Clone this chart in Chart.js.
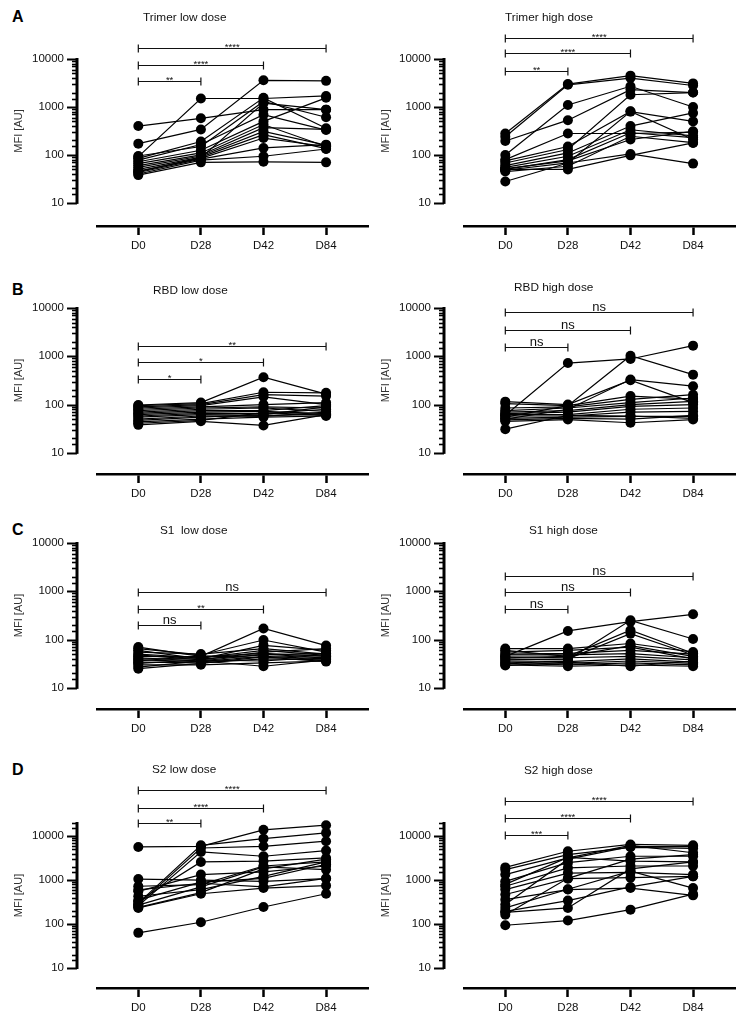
<!DOCTYPE html>
<html>
<head>
<meta charset="utf-8">
<script src="https://cdn.jsdelivr.net/npm/chart.js@4.4.1/dist/chart.umd.min.js"></script>
<style>
  body { margin: 0; background: #fff; font-family: "Liberation Sans", Arial, sans-serif; }
  #fig { position: relative; width: 754px; height: 1030px; overflow: hidden; }
  #fig canvas { position: absolute; }
  .letter { position: absolute; font-weight: bold; font-size: 16px; line-height: 16px; color: #000; }
  .title { position: absolute; font-size: 11.8px; line-height: 12px; color: #111; white-space: pre; }
</style>
</head>
<body>
<div id="fig"></div>
<script>
// time points on the x axis
const days = ['D0', 'D28', 'D42', 'D84'];

// MFI per subject, one row = D0, D28, D42, D84
const trimerLow = [
  [400, 580, 880, 880], [172, 340, 3600, 3500], [92, 1500, 1500, 1700], [95, 150, 1300, 610],
  [85, 190, 1550, 360], [78, 165, 690, 330], [72, 125, 500, 1550], [66, 110, 430, 150],
  [60, 100, 370, 340], [55, 95, 310, 160], [50, 90, 265, 135], [46, 85, 225, 150],
  [43, 82, 140, 164], [40, 78, 94, 133], [38, 70, 72, 70], [45, 88, 1200, 880]
];
const trimerHigh = [
  [280, 3000, 4500, 3100], [240, 2900, 4000, 2800], [195, 530, 2300, 2000], [100, 1100, 2700, 1000],
  [80, 280, 280, 300], [75, 150, 810, 210], [68, 130, 1800, 2000], [60, 110, 400, 750],
  [55, 94, 335, 250], [50, 80, 290, 230], [48, 68, 800, 500], [45, 58, 245, 180],
  [50, 50, 98, 178], [28, 68, 105, 66], [52, 75, 210, 310]
];
const rbdLow = [
  [98, 110, 368, 165], [95, 105, 180, 175], [90, 100, 160, 150], [85, 95, 145, 100],
  [80, 90, 100, 110], [75, 85, 90, 85], [70, 80, 85, 72], [66, 75, 75, 95],
  [62, 70, 72, 65], [58, 66, 65, 80], [55, 62, 60, 62], [50, 58, 57, 70],
  [47, 55, 62, 90], [44, 50, 55, 58], [41, 47, 68, 60], [38, 45, 37, 62]
];
const rbdHigh = [
  [60, 725, 880, 1660], [55, 95, 1030, 417], [50, 80, 330, 240], [115, 100, 320, 110],
  [105, 95, 150, 130], [85, 90, 128, 160], [75, 85, 110, 137], [70, 75, 100, 117],
  [65, 70, 92, 100], [62, 62, 80, 85], [58, 58, 70, 72], [52, 55, 57, 57],
  [48, 52, 50, 60], [45, 49, 42, 49], [31, 60, 58, 52]
];
const s1Low = [
  [70, 45, 170, 75], [65, 48, 98, 55], [60, 40, 76, 60], [55, 50, 65, 50],
  [50, 42, 60, 47], [48, 38, 55, 65], [45, 44, 52, 45], [42, 36, 50, 42],
  [40, 40, 48, 52], [38, 35, 45, 40], [36, 46, 42, 48], [34, 33, 40, 38],
  [32, 38, 36, 44], [30, 30, 33, 36], [27, 36, 28, 38], [25, 32, 44, 35]
];
const s1High = [
  [45, 151, 235, 334], [40, 38, 250, 103], [42, 45, 156, 52], [38, 40, 133, 48],
  [65, 65, 83, 55], [60, 45, 75, 45], [55, 60, 70, 40], [50, 52, 60, 50],
  [48, 48, 51, 42], [44, 42, 45, 38], [36, 35, 40, 34], [34, 32, 36, 32],
  [32, 30, 33, 30], [30, 28, 30, 28], [29, 34, 28, 36]
];
const s2Low = [
  [5700, 5900, 14000, 17800], [300, 6200, 8800, 11900], [280, 5400, 5900, 7700], [260, 4400, 3500, 4700],
  [330, 2600, 2700, 3200], [1060, 1000, 940, 1080], [725, 790, 2100, 2600], [557, 1340, 1540, 2100],
  [430, 610, 1220, 2600], [233, 490, 660, 750], [270, 700, 2000, 1730], [240, 520, 1800, 3000],
  [350, 900, 1100, 2300], [63, 110, 245, 490], [600, 850, 700, 1100]
];
const s2High = [
  [1950, 4550, 6500, 6200], [1730, 3800, 5600, 5300], [1340, 3200, 6200, 4200], [940, 2500, 3500, 3500],
  [800, 3300, 2700, 2600], [725, 1900, 2100, 2100], [610, 1450, 1500, 1340], [470, 1080, 1140, 1220],
  [360, 610, 660, 450], [280, 3000, 5800, 5800], [233, 620, 1600, 660], [195, 342, 700, 1220],
  [185, 233, 1800, 2600], [163, 1100, 3000, 3800], [94, 120, 213, 480]
];

// significance vs D0: D28, D42, D84
const trimerLowSig = ['**', '****', '****'];
const trimerHighSig = ['**', '****', '****'];
const rbdLowSig = ['*', '*', '**'];
const rbdHighSig = ['ns', 'ns', 'ns'];
const s1LowSig = ['ns', '**', 'ns'];
const s1HighSig = ['ns', 'ns', 'ns'];
const s2LowSig = ['**', '****', '****'];
const s2HighSig = ['***', '****', '****'];

const FONT = '"Liberation Sans", Arial, sans-serif';
const isPow10 = v => v > 0 && Math.abs(Math.log10(v) - Math.round(Math.log10(v))) < 1e-6;

// rows: canvas top, y of plot top, y of x axis line, y range
const rows = {
  A: { canvasTop: 0, chartTop: 59, lineY: 226, ymin: 3.3, ymax: 10000 },
  B: { canvasTop: 255, chartTop: 308, lineY: 474, ymin: 3.65, ymax: 10000 },
  C: { canvasTop: 510, chartTop: 543, lineY: 709, ymin: 3.65, ymax: 10000 },
  D: { canvasTop: 765, chartTop: 823, lineY: 988, ymin: 3.5, ymax: 20000 }
};

const panels = [
  { row: 'A', side: 0, data: trimerLow, sig: trimerLowSig, title: 'Trimer low dose', tx: 143, ty: 17, br: [22, 6, -11] },
  { row: 'A', side: 1, data: trimerHigh, sig: trimerHighSig, title: 'Trimer high dose', tx: 505, ty: 17, br: [12, -6, -21] },
  { row: 'B', side: 0, data: rbdLow, sig: rbdLowSig, title: 'RBD low dose', tx: 153, ty: 290, br: [71, 54, 38] },
  { row: 'B', side: 1, data: rbdHigh, sig: rbdHighSig, title: 'RBD high dose', tx: 514, ty: 287, br: [39, 22, 4] },
  { row: 'C', side: 0, data: s1Low, sig: s1LowSig, title: 'S1  low dose', tx: 160, ty: 530, br: [82, 66, 49] },
  { row: 'C', side: 1, data: s1High, sig: s1HighSig, title: 'S1 high dose', tx: 529, ty: 530, br: [66, 49, 33] },
  { row: 'D', side: 0, data: s2Low, sig: s2LowSig, title: 'S2 low dose', tx: 152, ty: 769, br: [0, -15, -33] },
  { row: 'D', side: 1, data: s2High, sig: s2HighSig, title: 'S2 high dose', tx: 524, ty: 770, br: [12, -5, -22] }
];
const letters = [['A', 17], ['B', 290], ['C', 530], ['D', 770]];

// offset y axis, minor ticks, axis title and significance brackets
const prismAxes = {
  id: 'prismAxes',
  afterDraw(chart, args, opts) {
    const { ctx, chartArea, scales: { x, y } } = chart;
    const ax = chartArea.left - 20;
    const yBot = y.getPixelForValue(10);
    const yTop = y.getPixelForValue(y.max);
    ctx.save();
    ctx.strokeStyle = '#000';
    ctx.lineWidth = 3;
    ctx.beginPath();
    ctx.moveTo(ax, yBot + 1);
    ctx.lineTo(ax, yTop - 1);
    ctx.stroke();
    y.ticks.forEach(t => {
      if (t.value < 9.999) return;
      const py = Math.round(y.getPixelForValue(t.value)) + 0.5;
      const major = isPow10(t.value);
      ctx.lineWidth = major ? 2 : 1.6;
      ctx.beginPath();
      ctx.moveTo(ax - (major ? 10 : 5), py);
      ctx.lineTo(ax, py);
      ctx.stroke();
    });

    ctx.fillStyle = '#333';
    ctx.font = '11px ' + FONT;
    ctx.textAlign = 'center';
    ctx.textBaseline = 'middle';
    ctx.translate(19, (yBot + yTop) / 2);
    ctx.rotate(-Math.PI / 2);
    ctx.fillText('MFI [AU]', 0, 0);
    ctx.setTransform(1, 0, 0, 1, 0, 0);

    const x0 = x.getPixelForValue(0);
    opts.sig.forEach((txt, i) => {
      const x1 = x.getPixelForValue(i + 1);
      const py = Math.round(chartArea.top + opts.br[i]) + 0.5;
      ctx.strokeStyle = '#111';
      ctx.lineWidth = 1.2;
      ctx.beginPath();
      ctx.moveTo(x0, py); ctx.lineTo(x1, py);
      ctx.moveTo(x0, py - 4); ctx.lineTo(x0, py + 4);
      ctx.moveTo(x1, py - 4); ctx.lineTo(x1, py + 4);
      ctx.stroke();
      ctx.fillStyle = '#111';
      ctx.textAlign = 'center';
      ctx.textBaseline = 'alphabetic';
      if (txt === 'ns') {
        ctx.font = '13px ' + FONT;
        ctx.fillText(txt, (x0 + x1) / 2, py - 2);
      } else {
        ctx.font = '9.5px ' + FONT;
        ctx.fillText(txt, (x0 + x1) / 2, py + 1);
      }
    });
    ctx.restore();
  }
};

const fig = document.getElementById('fig');

letters.forEach(([l, ty]) => {
  const d = document.createElement('div');
  d.className = 'letter';
  d.textContent = l;
  d.style.left = '12px';
  d.style.top = (ty - 8) + 'px';
  fig.appendChild(d);
});

panels.forEach(p => {
  const r = rows[p.row];
  const left = p.side ? 367 : 0;
  const cv = document.createElement('canvas');
  cv.width = 377;
  cv.height = r.lineY - r.canvasTop + 40;
  cv.style.left = left + 'px';
  cv.style.top = r.canvasTop + 'px';
  fig.appendChild(cv);

  const t = document.createElement('div');
  t.className = 'title';
  t.textContent = p.title;
  t.style.left = p.tx + 'px';
  t.style.top = (p.ty - 6) + 'px';
  fig.appendChild(t);

  new Chart(cv, {
    type: 'line',
    data: {
      datasets: p.data.map(vals => ({
        data: vals.map((v, i) => ({ x: i, y: v })),
        borderColor: '#000',
        borderWidth: 1.2,
        pointRadius: 5,
        pointBackgroundColor: '#000',
        pointBorderWidth: 0,
        tension: 0,
        clip: false
      }))
    },
    options: {
      responsive: false,
      animation: false,
      layout: { padding: { top: r.chartTop - r.canvasTop, right: 9, bottom: 0, left: 0 } },
      plugins: {
        legend: { display: false },
        tooltip: { enabled: false },
        prismAxes: { sig: p.sig, br: p.br }
      },
      scales: {
        x: {
          type: 'linear',
          min: -0.66,
          max: 3.67,
          afterBuildTicks: s => { s.ticks = days.map((d, i) => ({ value: i })); },
          afterFit: s => { s.height = 40; },
          ticks: { callback: v => days[v], font: { size: 11.5, family: FONT }, color: '#111', padding: 4, autoSkip: false, maxRotation: 0 },
          grid: { display: true, drawOnChartArea: false, drawTicks: true, tickLength: 9, tickWidth: 2.5, tickColor: '#000' },
          border: { display: true, color: '#000', width: 2.5 }
        },
        y: {
          type: 'logarithmic',
          min: r.ymin,
          max: r.ymax,
          afterFit: s => { s.width = 97; },
          ticks: {
            autoSkip: false,
            callback: v => (isPow10(v) && v >= 9.999 ? String(Math.round(v)) : ''),
            font: { size: 11.5, family: FONT },
            color: '#111',
            padding: 3
          },
          grid: { display: true, drawOnChartArea: false, drawTicks: true, tickLength: 30, tickColor: 'rgba(0,0,0,0)' },
          border: { display: false }
        }
      }
    },
    plugins: [prismAxes]
  });
});
</script>
</body>
</html>
